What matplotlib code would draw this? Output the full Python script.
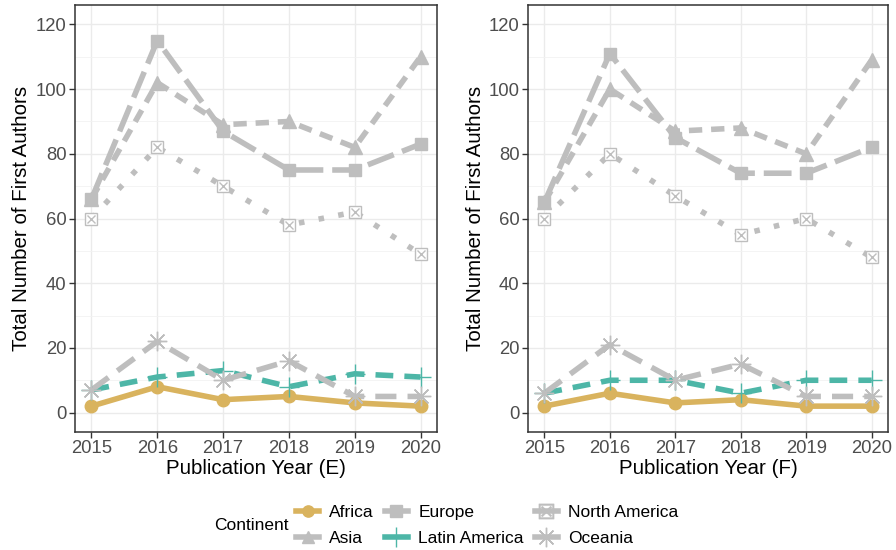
import matplotlib.pyplot as plt
from matplotlib.lines import Line2D
from matplotlib.ticker import MultipleLocator

plt.rcParams['font.family'] = ['Liberation Sans', 'DejaVu Sans']

years = [2015, 2016, 2017, 2018, 2019, 2020]
continents = ['Africa', 'Asia', 'Europe', 'Latin America', 'North America', 'Oceania']

# panel E
africa_e = [2, 8, 4, 5, 3, 2]
asia_e = [66, 102, 89, 90, 82, 110]
europe_e = [66, 115, 87, 75, 75, 83]
latin_e = [7, 11, 13, 8, 12, 11]
north_e = [60, 82, 70, 58, 62, 49]
oceania_e = [7, 22, 10, 16, 5, 5]

# panel F
africa_f = [2, 6, 3, 4, 2, 2]
asia_f = [65, 100, 87, 88, 80, 109]
europe_f = [65, 111, 85, 74, 74, 82]
latin_f = [6, 10, 10, 6, 10, 10]
north_f = [60, 80, 67, 55, 60, 48]
oceania_f = [6, 21, 10, 15, 5, 5]

GOLD = '#D9B35E'
TEAL = '#4DB6A7'
GREY = '#BEBEBE'

# colour, marker, marker size, dash pattern (in linewidth units)
styles = {
    'Africa':        (GOLD, 'o', 9, None),
    'Asia':          (GREY, '^', 10, (2.4, 1.6)),
    'Europe':        (GREY, 's', 9, (5.0, 1.6)),
    'Latin America': (TEAL, '+', 14, (3.2, 2.0)),
    'North America': (GREY, 's', 9, (1.0, 2.6)),
    'Oceania':       (GREY, (8, 2, 0), 14, (3.8, 2.0)),
}
LW = 4.0


def draw_panel(ax, series, xlabel):
    for name, vals in zip(continents, series):
        col, mk, ms, dash = styles[name]
        kw = dict(color=col, lw=LW, solid_capstyle='butt', dash_capstyle='butt')
        if dash is not None:
            kw['dashes'] = dash
        ax.plot(years, vals, zorder=3 if name != 'Africa' else 4, **kw)
    for name, vals in zip(continents, series):
        col, mk, ms, dash = styles[name]
        if name == 'North America':
            ax.plot(years, vals, ls='none', marker='s', ms=ms, mfc='white',
                    mec=col, mew=1.0, zorder=5)
            ax.plot(years, vals, ls='none', marker='x', ms=ms * 0.7, mec=col,
                    mew=1.0, zorder=6)
        elif mk in ('+', (8, 2, 0)):
            ax.plot(years, vals, ls='none', marker=mk, ms=ms, mec=col, mew=1.0, zorder=5)
        else:
            ax.plot(years, vals, ls='none', marker=mk, ms=ms, color=col, zorder=5)

    ax.set_xlim(2014.75, 2020.25)
    ax.set_ylim(-6, 126)
    ax.set_xticks(years)
    ax.yaxis.set_major_locator(MultipleLocator(20))
    ax.yaxis.set_minor_locator(MultipleLocator(10))
    ax.grid(True, which='major', color='#EBEBEB', lw=1.0, zorder=0)
    ax.grid(True, which='minor', axis='y', color='#F2F2F2', lw=0.6, zorder=0)
    ax.set_axisbelow(True)
    for sp in ax.spines.values():
        sp.set_color('#333333')
        sp.set_linewidth(1.1)
    ax.tick_params(which='major', length=4, width=1.0, color='#333333',
                   labelsize=13.3, labelcolor='#4D4D4D', pad=2)
    ax.tick_params(which='minor', length=0)
    ax.set_xlabel(xlabel, fontsize=14.8, labelpad=1)
    ax.set_ylabel('Total Number of First Authors', fontsize=14.8, labelpad=3)


fig = plt.figure(figsize=(8.96, 5.5), dpi=100)
ax_e = fig.add_axes([0.0837, 0.2145, 0.404, 0.7764])
ax_f = fig.add_axes([0.5893, 0.2145, 0.4018, 0.7764])

draw_panel(ax_e, [africa_e, asia_e, europe_e, latin_e, north_e, oceania_e],
           'Publication Year (E)')
draw_panel(ax_f, [africa_f, asia_f, europe_f, latin_f, north_f, oceania_f],
           'Publication Year (F)')

# shared legend along the bottom
handles = []
for name in continents:
    col, mk, ms, dash = styles[name]
    if name == 'North America':
        h = Line2D([0], [0], color=col, lw=LW, marker=r'$\boxtimes$', ms=11,
                   mfc=col, mec=col, mew=0.2)
    elif mk in ('+', (8, 2, 0)):
        h = Line2D([0], [0], color=col, lw=LW, marker=mk, ms=ms, mec=col, mew=1.0)
    else:
        h = Line2D([0], [0], color=col, lw=LW, marker=mk, ms=ms * 0.9)
    handles.append(h)

fig.legend(handles=handles, labels=continents, ncol=3, loc='center left',
           bbox_to_anchor=(0.321, 0.0445), frameon=False, fontsize=12.5,
           handlelength=1.3, handletextpad=0.6, columnspacing=0.65,
           labelspacing=0.65, borderpad=0)
fig.text(0.239, 0.0445, 'Continent', fontsize=12.5, va='center', ha='left')

fig.savefig('out.png', dpi=100)
